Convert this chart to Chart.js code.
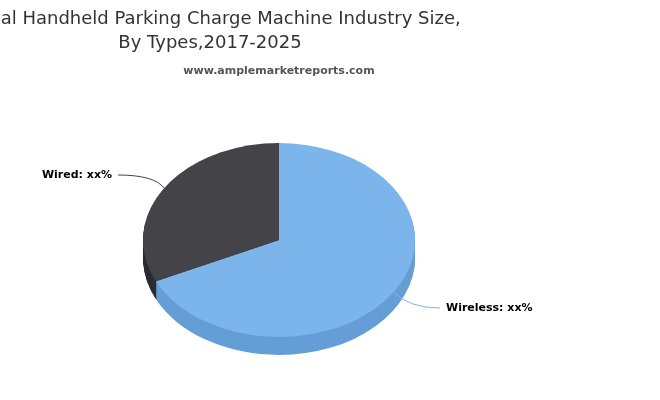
<!DOCTYPE html>
<html><head><meta charset="utf-8">
<script src="https://cdn.jsdelivr.net/npm/chart.js@4"></script>
<style>html,body{margin:0;padding:0;background:#fff}#w{width:660px;height:400px}</style>
</head><body><div id="w"><canvas id="c"></canvas></div>
<script>
const categories = ["Wireless", "Wired"];
const values = [68, 32];
const labelTexts = ["Wireless: xx%", "Wired: xx%"];
const titleLines = ["Global Handheld Parking Charge Machine Industry Size,", "By Types,2017-2025"];
const subtitleText = "www.amplemarketreports.com";

const topColors = ["#7cb5ec", "#434348"];
const sideColors = ["#659ed6", "#2c2c30"];
const SY = 0.713, DEPTH = 18;

function arcPath(ctx, a) {
  ctx.beginPath();
  ctx.moveTo(a.x, a.y);
  ctx.arc(a.x, a.y, a.outerRadius, a.startAngle, a.endAngle);
  ctx.closePath();
}
const pie3d = {
  id: 'pie3d',
  beforeDatasetsDraw(chart) {
    const ctx = chart.ctx, meta = chart.getDatasetMeta(0);
    const a0 = meta.data[0];
    for (let d = DEPTH; d >= 1; d--) {
      ctx.save();
      ctx.translate(0, d);
      ctx.translate(a0.x, a0.y); ctx.scale(1, SY); ctx.translate(-a0.x, -a0.y);
      meta.data.forEach((a, i) => { arcPath(ctx, a); ctx.fillStyle = sideColors[i]; ctx.fill(); });
      ctx.restore();
    }
    ctx.save();
    ctx.translate(a0.x, a0.y); ctx.scale(1, SY); ctx.translate(-a0.x, -a0.y);
    meta.data.forEach((a, i) => { arcPath(ctx, a); ctx.fillStyle = topColors[i]; ctx.fill(); });
    ctx.restore();
    return false;
  },
  afterDraw(chart) {
    const ctx = chart.ctx, meta = chart.getDatasetMeta(0);
    ctx.save();
    ctx.fillStyle = "#333";
    ctx.textAlign = "center"; ctx.textBaseline = "alphabetic";
    ctx.font = "18px 'DejaVu Sans'";
    ctx.fillText(titleLines[0], 210, 24);
    ctx.fillText(titleLines[1], 210, 48);
    ctx.font = "bold 11px 'DejaVu Sans'";
    ctx.fillStyle = "#555";
    ctx.fillText(subtitleText, 279, 74);
    // data labels
    ctx.font = "bold 11px 'DejaVu Sans'";
    ctx.fillStyle = "#000";
    meta.data.forEach((a, i) => {
      const mid = (a.startAngle + a.endAngle) / 2;
      const px = a.x + Math.cos(mid) * a.outerRadius;
      const py = a.y + Math.sin(mid) * a.outerRadius * SY;
      const right = Math.cos(mid) > 0;
      const lx = right ? 440 : 118, ly = right ? 308 : 175;
      ctx.strokeStyle = topColors[i]; ctx.lineWidth = 1;
      ctx.beginPath(); ctx.moveTo(px, py);
      ctx.quadraticCurveTo(right ? px + 15 : px - 10, ly, lx, ly);
      ctx.stroke();
      ctx.textAlign = right ? "left" : "right"; ctx.textBaseline = "middle";
      ctx.fillText(labelTexts[i], right ? lx + 6 : lx - 6, ly);
    });
    ctx.restore();
  }
};

new Chart(document.getElementById('c'), {
  type: 'pie',
  data: { labels: categories, datasets: [{ data: values, backgroundColor: topColors, borderWidth: 0 }] },
  options: {
    responsive: true, maintainAspectRatio: false, animation: false,
    layout: { padding: { left: 143, right: 245, top: 104, bottom: 24 } },
    plugins: { legend: { display: false }, tooltip: { enabled: false }, title: { display: false } }
  },
  plugins: [pie3d]
});
</script></body></html>
